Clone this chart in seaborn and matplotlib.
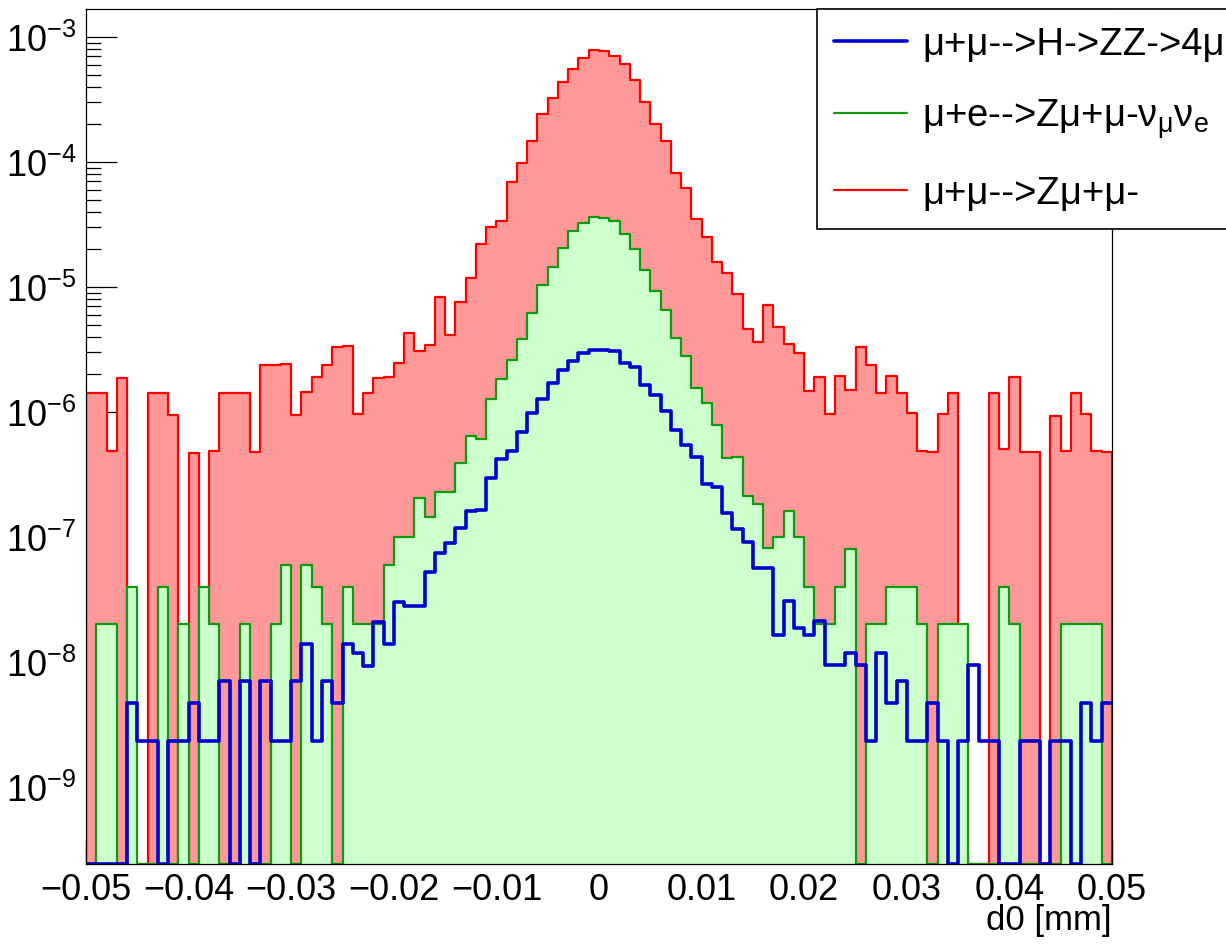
import numpy as np
import pandas as pd
import matplotlib
matplotlib.use("Agg")
import matplotlib.pyplot as plt
import seaborn as sns
from matplotlib.lines import Line2D
from matplotlib.ticker import MultipleLocator, LogLocator, LogFormatterSciNotation, NullFormatter

# ---------------- data ----------------
x_min, x_max, n_bins = -0.05, 0.05, 100

labels = [
    "μ+μ-->H->ZZ->4μ",
    "μ+e-->Zμ+μ-$\\mathregular{ν_{μ}ν_{e}}$",
    "μ+μ-->Zμ+μ-",
]

# mu mu -> Z mu mu (red, filled)
red_vals = [
    1.41e-6, 1.43e-6, 4.9e-7, 1.88e-6, 0, 0, 1.41e-6, 1.43e-6, 9.4e-7, 0,
    4.7e-7, 0, 4.9e-7, 1.41e-6, 1.41e-6, 1.43e-6, 4.8e-7, 2.38e-6, 2.38e-6, 2.42e-6,
    9.4e-7, 1.45e-6, 1.9e-6, 2.38e-6, 3.29e-6, 3.35e-6, 9.6e-7, 1.43e-6, 1.88e-6, 1.9e-6,
    2.45e-6, 4.3e-6, 3.1e-6, 3.45e-6, 8.3e-6, 4.14e-6, 7.6e-6, 1.17e-5, 2.19e-5, 3.0e-5,
    3.4e-5, 6.9e-5, 9.9e-5, 1.48e-4, 2.41e-4, 3.24e-4, 4.35e-4, 5.5e-4, 6.76e-4, 7.8e-4,
    7.75e-4, 7.1e-4, 6.07e-4, 4.57e-4, 3.03e-4, 2.0e-4, 1.47e-4, 8.1e-5, 6.2e-5, 3.47e-5,
    2.53e-5, 1.58e-5, 1.3e-5, 8.8e-6, 4.6e-6, 3.6e-6, 7.2e-6, 4.8e-6, 3.47e-6, 2.94e-6,
    1.46e-6, 1.9e-6, 9.6e-7, 1.94e-6, 1.51e-6, 3.3e-6, 2.38e-6, 1.43e-6, 1.94e-6, 1.43e-6,
    9.8e-7, 4.9e-7, 4.8e-7, 9.6e-7, 1.43e-6, 0, 0, 0, 1.43e-6, 5.1e-7,
    1.9e-6, 4.8e-7, 4.8e-7, 0, 9.3e-7, 4.9e-7, 1.43e-6, 9.6e-7, 4.9e-7, 4.8e-7,
]

# mu e -> Z mu mu nu nu (green, filled)
green_vals = [
    0, 2e-8, 2e-8, 0, 4e-8, 0, 0, 4e-8, 0, 2e-8,
    0, 4e-8, 2e-8, 0, 0, 2e-8, 0, 0, 2e-8, 6e-8,
    0, 6e-8, 4e-8, 2e-8, 0, 4e-8, 2e-8, 2e-8, 2e-8, 6e-8,
    1.0e-7, 1.0e-7, 2.05e-7, 1.44e-7, 2.28e-7, 2.28e-7, 3.94e-7, 6.45e-7, 6.1e-7, 1.28e-6,
    1.85e-6, 2.59e-6, 3.87e-6, 6.25e-6, 1.04e-5, 1.44e-5, 2.06e-5, 2.83e-5, 3.24e-5, 3.6e-5,
    3.55e-5, 3.37e-5, 2.64e-5, 2.0e-5, 1.37e-5, 9.3e-6, 6.6e-6, 3.9e-6, 2.8e-6, 1.55e-6,
    1.19e-6, 7.9e-7, 4.3e-7, 4.4e-7, 2.13e-7, 1.85e-7, 8.2e-8, 1.0e-7, 1.6e-7, 1.0e-7,
    4e-8, 2e-8, 2e-8, 4e-8, 8e-8, 0, 2e-8, 2e-8, 4e-8, 4e-8,
    4e-8, 2e-8, 0, 2e-8, 2e-8, 2e-8, 0, 0, 0, 4e-8,
    2e-8, 0, 0, 0, 0, 2e-8, 2e-8, 2e-8, 2e-8, 0,
]

# mu mu -> H -> ZZ -> 4mu (blue, line)
blue_vals = [
    0, 0, 0, 0, 4.66e-9, 2.33e-9, 2.33e-9, 0, 2.33e-9, 2.33e-9,
    4.66e-9, 2.33e-9, 2.33e-9, 7e-9, 0, 7e-9, 0, 7e-9, 2.33e-9, 2.33e-9,
    7e-9, 1.4e-8, 2.33e-9, 7e-9, 4.66e-9, 1.4e-8, 1.17e-8, 9.3e-9, 2.1e-8, 1.4e-8,
    3.0e-8, 2.8e-8, 2.8e-8, 5.2e-8, 7.4e-8, 8.97e-8, 1.18e-7, 1.6e-7, 1.65e-7, 2.97e-7,
    4.2e-7, 4.9e-7, 6.9e-7, 9.9e-7, 1.26e-6, 1.7e-6, 2.17e-6, 2.56e-6, 2.94e-6, 3.15e-6,
    3.12e-6, 3.05e-6, 2.46e-6, 2.3e-6, 1.63e-6, 1.36e-6, 1.01e-6, 7.2e-7, 5.4e-7, 4.4e-7,
    2.64e-7, 2.5e-7, 1.55e-7, 1.15e-7, 9.2e-8, 5.6e-8, 5.6e-8, 1.63e-8, 3.07e-8, 1.88e-8,
    1.64e-8, 2.14e-8, 9.5e-9, 9.5e-9, 1.17e-8, 9.5e-9, 2.33e-9, 1.17e-8, 4.66e-9, 7e-9,
    2.33e-9, 2.33e-9, 4.66e-9, 2.33e-9, 0, 2.33e-9, 9.5e-9, 2.33e-9, 2.33e-9, 0,
    0, 2.33e-9, 2.33e-9, 0, 2.33e-9, 2.33e-9, 0, 4.66e-9, 2.33e-9, 4.66e-9,
]

y_lo, y_hi = 2.42e-10, 1.675e-3
x_label = "d0 [mm]"

# ---------------- style ----------------
sns.set_theme(style="white")
plt.rcParams["font.family"] = ["Liberation Sans", "DejaVu Sans"]
plt.rcParams["mathtext.fontset"] = "custom"
plt.rcParams["mathtext.rm"] = "Liberation Sans"
plt.rcParams["mathtext.it"] = "Liberation Sans:italic"
plt.rcParams["mathtext.default"] = "regular"
plt.rcParams["text.color"] = "black"
plt.rcParams["axes.labelcolor"] = "black"
plt.rcParams["xtick.color"] = "black"
plt.rcParams["ytick.color"] = "black"

W, H = 1226, 945
fig = plt.figure(figsize=(W / 100, H / 100), dpi=100)
ax = fig.add_axes([86 / W, 1 - 865 / H, (1112 - 86) / W, (865 - 10) / H])

edges = np.linspace(x_min, x_max, n_bins + 1)
centers = 0.5 * (edges[:-1] + edges[1:])


def floor(v):
    v = np.asarray(v, dtype=float)
    return np.where(v > 0, v, y_lo)  # empty bins drawn at the frame floor, as ROOT does


df = pd.DataFrame({
    "d0": centers,
    "red": floor(red_vals),
    "green": floor(green_vals),
    "blue": floor(blue_vals),
})

red_c, red_fill = "#ff0000", "#ff9999"
green_c, green_fill = "#0f9a0f", "#ccffcc"
blue_c = "#0000cc"

sns.histplot(data=df, x="d0", weights="red", bins=list(edges), element="step", fill=True,
             facecolor=red_fill, edgecolor=red_c, linewidth=1.6, alpha=1, ax=ax)
sns.histplot(data=df, x="d0", weights="green", bins=list(edges), element="step", fill=True,
             facecolor=green_fill, edgecolor=green_c, linewidth=1.6, alpha=1, ax=ax)
sns.histplot(data=df, x="d0", weights="blue", bins=list(edges), element="step", fill=False,
             color=blue_c, linewidth=2.6, ax=ax)

ax.set_yscale("log")
ax.set_xlim(x_min, x_max)
ax.set_ylim(y_lo, y_hi)
ax.set_ylabel("")
ax.set_xlabel(x_label, loc="right", fontsize=25, labelpad=-3, color="black")

# ticks: ROOT style, inward, bottom and left only
ax.xaxis.set_major_locator(MultipleLocator(0.01))
ax.xaxis.set_minor_locator(MultipleLocator(0.002))
ax.yaxis.set_major_locator(LogLocator(base=10, numticks=20))
ax.yaxis.set_minor_locator(LogLocator(base=10, subs=np.arange(2, 10), numticks=100))
ax.yaxis.set_major_formatter(LogFormatterSciNotation())
ax.yaxis.set_minor_formatter(NullFormatter())
ax.xaxis.set_major_formatter(plt.FuncFormatter(
    lambda v, p: "0" if abs(v) < 1e-12 else f"{v:.2f}".replace("-", "\u2212")))

ax.tick_params(axis="both", which="both", direction="in", bottom=True, left=True,
               top=False, right=False, color="black", labelcolor="black", width=0.9)
ax.tick_params(axis="x", which="major", length=17, labelsize=26, pad=6)
ax.tick_params(axis="x", which="minor", length=8.5)
ax.tick_params(axis="y", which="major", length=22, labelsize=26, pad=7)
ax.tick_params(axis="y", which="minor", length=11)

for s in ax.spines.values():
    s.set_visible(True)
    s.set_color("black")
    s.set_linewidth(0.9)

handles = [
    Line2D([], [], color=blue_c, lw=2.6),
    Line2D([], [], color=green_c, lw=1.6),
    Line2D([], [], color=red_c, lw=1.6),
]
leg = fig.legend(handles, labels, loc="upper left",
                 bbox_to_anchor=(817 / W, 1 - 224 / H, (1232 - 817) / W, (224 - 10) / H),
                 mode="expand", fontsize=27.5, frameon=True, fancybox=False, shadow=False,
                 framealpha=1, edgecolor="black", borderpad=0.45, labelspacing=0.9,
                 handlelength=1.9, handletextpad=0.4, borderaxespad=0)
leg.get_frame().set_linewidth(1.2)
for t in leg.get_texts():
    t.set_color("black")

fig.savefig("out.png", dpi=100)
